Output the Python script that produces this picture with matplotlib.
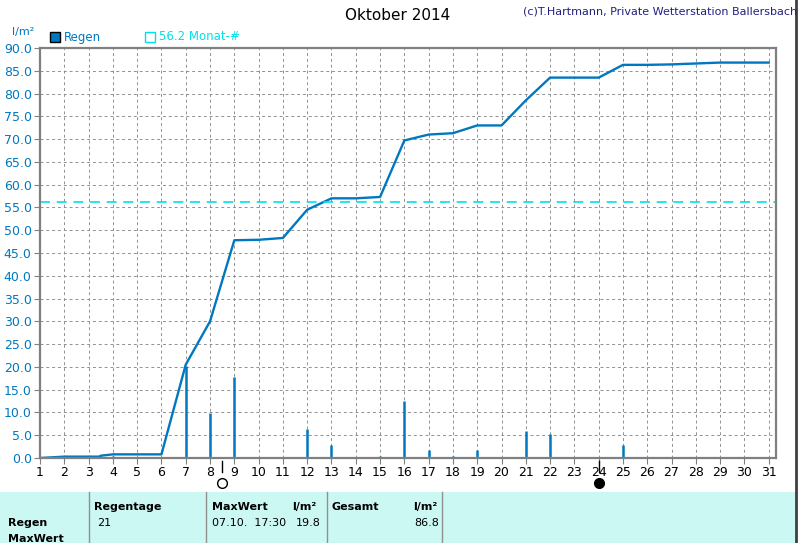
import matplotlib
matplotlib.use("Agg")

import matplotlib.pyplot as plt
import numpy as np

days = np.arange(1, 32)
daily_rain = [0.0, 0.2, 0.2, 0.4, 0.0, 0.0, 20.2, 9.9, 17.8, 0.1, 0.3, 6.4, 2.8, 0.1, 0.4,
              12.5, 1.7, 0.4, 1.8, 0.0, 5.9, 5.3, 0.0, 0.0, 2.9, 0.0, 0.1, 0.1, 0.3, 0.0, 0.0]
cum_x = [1, 2, 3.5, 3.5, 4, 6, 7, 8, 9, 10, 11, 12, 13, 14, 15, 16, 17, 18, 19, 20,
         21, 22, 23, 24, 25, 26, 27, 28, 29, 30, 31]
cum_y = [0.0, 0.3, 0.3, 0.5, 0.8, 0.8, 20.5, 30.0, 47.8, 47.9, 48.3, 54.5, 57.0, 57.0, 57.3,
         69.7, 71.0, 71.3, 73.0, 73.0, 78.5, 83.5, 83.5, 83.5, 86.3, 86.3, 86.4, 86.6, 86.8, 86.8, 86.8]
month_avg = 56.2
blue = "#0078c0"
cyan = "#00e0e8"

W, H = 802, 543
fig = plt.figure(figsize=(W / 100, H / 100), dpi=100)
ax = fig.add_axes([40 / W, 1 - 458 / H, (776 - 40) / W, (458 - 48) / H])

ax.vlines(days, 0, daily_rain, color=blue, linewidth=1.8)
ax.plot(cum_x, cum_y, color=blue, linewidth=1.7)
ax.axhline(month_avg, color=cyan, linestyle=(0, (6, 4)), linewidth=1.2)

ax.set_xlim(1, 31.3)
ax.set_ylim(0, 90)
ax.set_xticks(days)
ax.set_yticks(np.arange(0, 91, 5))
ax.set_yticklabels([f"{v:.1f}" for v in np.arange(0, 91, 5)], color=blue, fontsize=9)
ax.set_xticklabels([str(d) for d in days], fontsize=9)
ax.grid(True, color="#909090", linestyle=(0, (3, 3)), linewidth=0.7)
for s in ax.spines.values():
    s.set_color("#808080")
    s.set_linewidth(1.6)
ax.tick_params(length=4, color="#808080", pad=2)

# moon phase markers
for d, fc in [(8.5, "white"), (24, "black")]:
    ax.plot([d, d], [-0.6, -3], color="black", linewidth=1, clip_on=False)
    ax.plot(d, -5.5, "o", markersize=7, markerfacecolor=fc, markeredgecolor="black", clip_on=False)

fig.text(398 / W, 1 - 16 / H, "Oktober 2014", ha="center", va="center", fontsize=11)
fig.text(797 / W, 1 - 12 / H, "(c)T.Hartmann, Private Wetterstation Ballersbach",
         ha="right", va="center", fontsize=8, color="#202080")
fig.text(12 / W, 1 - 32 / H, "l/m²", color=blue, fontsize=8, va="center")
fig.patches.append(plt.Rectangle((50 / W, 1 - 42 / H), 10 / W, 10 / H, transform=fig.transFigure,
                                 facecolor=blue, edgecolor="black"))
fig.text(64 / W, 1 - 37 / H, "Regen", color=blue, fontsize=8.5, va="center")
fig.patches.append(plt.Rectangle((145 / W, 1 - 42 / H), 10 / W, 10 / H, transform=fig.transFigure,
                                 facecolor="none", edgecolor=cyan))
fig.text(159 / W, 1 - 37 / H, f"{month_avg} Monat-#", color=cyan, fontsize=8.5, va="center")

# window border
fig.add_artist(plt.Line2D([796 / W, 796 / W], [0, 1], color="#404040", linewidth=2))

# bottom table
fig.patches.append(plt.Rectangle((0, 0), 796 / W, 51 / H, transform=fig.transFigure,
                                 facecolor="#ccf8f4", edgecolor="none"))
for xs in [89, 206, 327, 442]:
    fig.add_artist(plt.Line2D([xs / W, xs / W], [0, 51 / H], color="#909090", linewidth=1))
cells = [(94, 507, "Regentage", True), (8, 523, "Regen", True), (8, 539, "MaxWert", True),
         (97, 523, "21", False), (212, 507, "MaxWert", True), (292, 507, "l/m²", True),
         (212, 523, "07.10.  17:30", False), (296, 523, "19.8", False),
         (332, 507, "Gesamt", True), (413, 507, "l/m²", True), (414, 523, "86.8", False)]
for x, y, t, b in cells:
    fig.text(x / W, 1 - y / H, t, fontsize=8, va="center", fontweight="bold" if b else "normal")

fig.savefig("out.png", dpi=100)
